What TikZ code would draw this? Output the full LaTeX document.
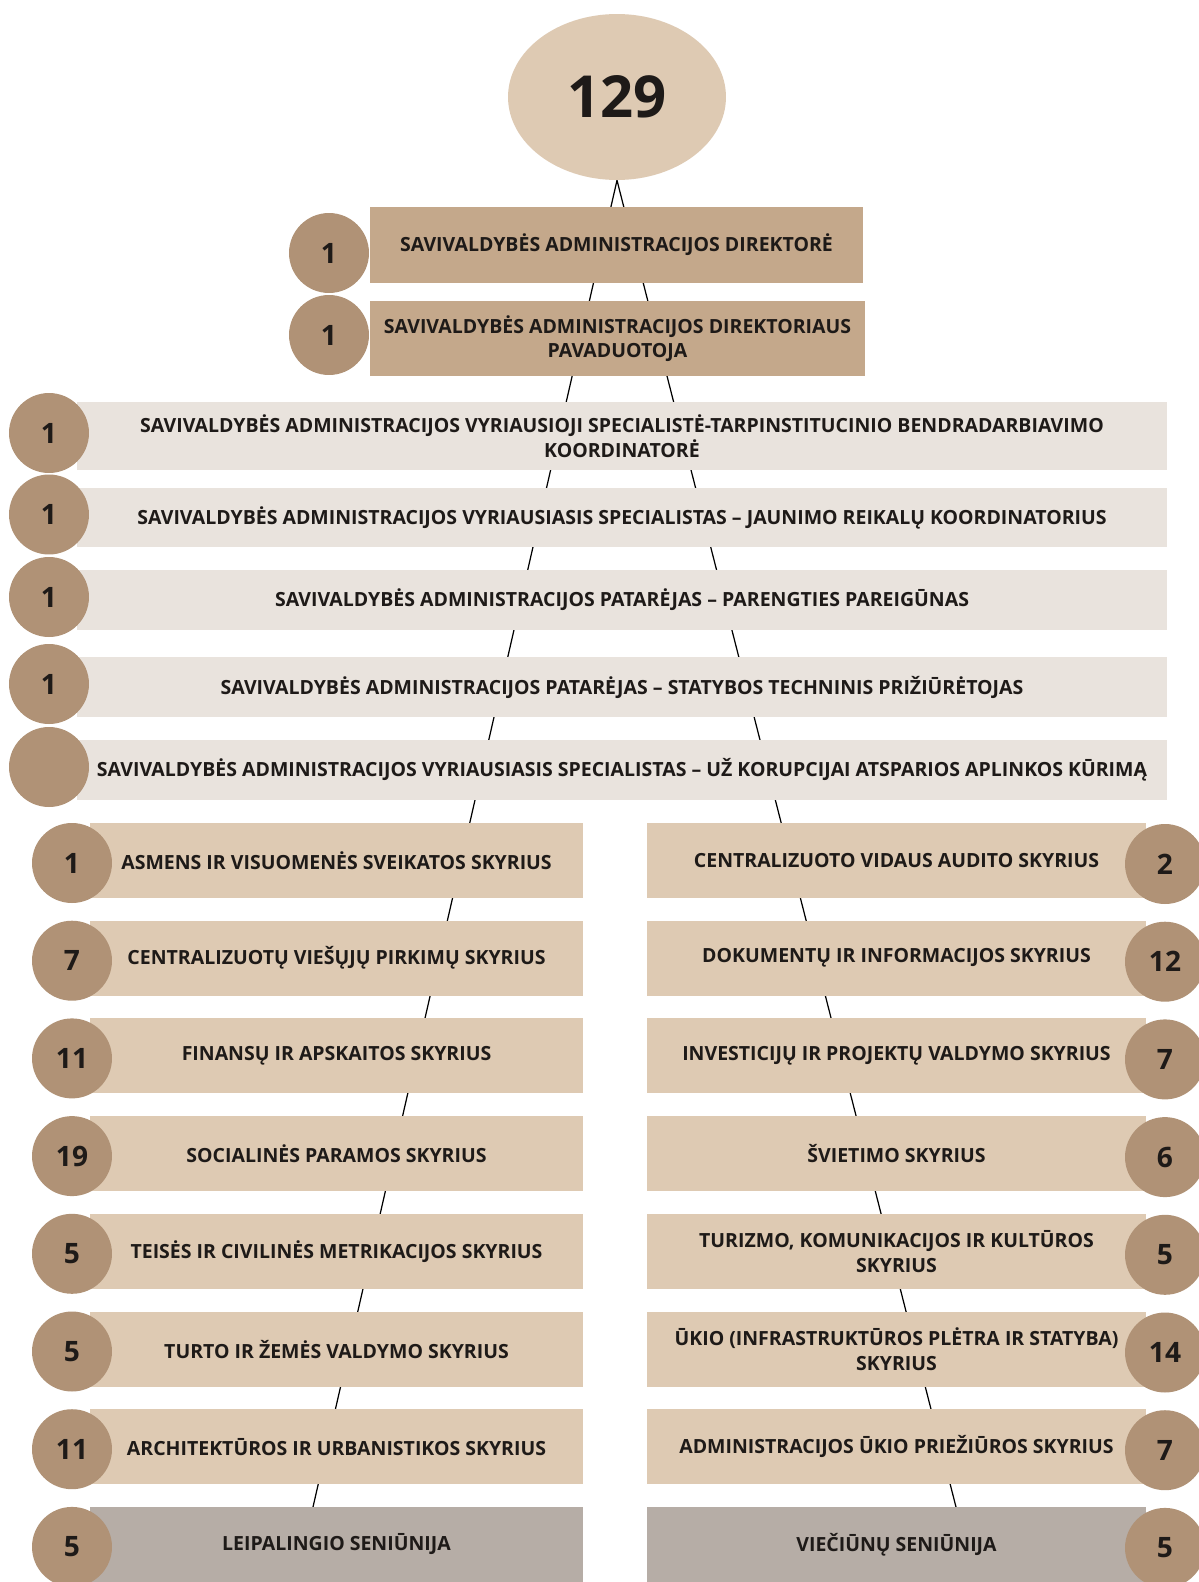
\documentclass[tikz,border=0pt]{standalone}
\usepackage{fontspec}
\setmainfont{Open Sans}
\usetikzlibrary{shapes.geometric}
\usetikzlibrary{backgrounds}

\definecolor{sand}{RGB}{222,202,179}
\definecolor{clay}{RGB}{196,168,139}
\definecolor{cocoa}{RGB}{176,146,118}
\definecolor{mist}{RGB}{233,227,221}
\definecolor{stone}{RGB}{182,173,166}
\definecolor{ink}{RGB}{30,26,24}

\begin{document}
\begin{tikzpicture}
	[x=0.02cm,y=-0.02cm,every node/.style={font=\bfseries\fontsize{11.1}{14}\selectfont,text=ink,align=center,inner sep=0pt},
	bar/.style={rectangle,minimum height=1.5cm},
	badge/.style={circle,fill=cocoa,minimum size=1.6cm,font=\bfseries\fontsize{16}{16}\selectfont}]
	\useasboundingbox (0,0) rectangle (1198,1582);
	\node[style={ellipse,fill=sand,minimum width=4.36cm,minimum height=3.32cm},font=\bfseries\fontsize{33}{33}\selectfont] (top) at (617,97) {129};
	\node[bar,fill=clay,minimum width=9.86cm,minimum height=1.52cm] (dir) at (616.5,245) {SAVIVALDYBĖS ADMINISTRACIJOS DIREKTORĖ};
	\node[badge] (dirn) at (329,253) {1};
	\node[bar,fill=clay,minimum width=9.9cm] (dep) at (617.5,338.5) {SAVIVALDYBĖS ADMINISTRACIJOS DIREKTORIAUS\\PAVADUOTOJA};
	\node[badge] (depn) at (329,335) {1};
	
	% specialistai
	\foreach \y/\h/\n/\t [count=\i] in
	{436/1.36/1/{SAVIVALDYBĖS ADMINISTRACIJOS VYRIAUSIOJI SPECIALISTĖ-TARPINSTITUCINIO BENDRADARBIAVIMO\\KOORDINATORĖ},
	517.5/1.18/1/{SAVIVALDYBĖS ADMINISTRACIJOS VYRIAUSIASIS SPECIALISTAS – JAUNIMO REIKALŲ KOORDINATORIUS},
	600/1.2/1/{SAVIVALDYBĖS ADMINISTRACIJOS PATARĖJAS – PARENGTIES PAREIGŪNAS},
	687/1.2/1/{SAVIVALDYBĖS ADMINISTRACIJOS PATARĖJAS – STATYBOS TECHNINIS PRIŽIŪRĖTOJAS},
	770/1.2//{SAVIVALDYBĖS ADMINISTRACIJOS VYRIAUSIASIS SPECIALISTAS – UŽ KORUPCIJAI ATSPARIOS APLINKOS KŪRIMĄ}}
	{
	\node[bar,fill=mist,minimum width=21.8cm,minimum height=\h cm] (s\i) at (622,\y) {\t};
	\node[badge] (sn\i) at (49,\y-3) {\n};
	}
	
	% skyriai
	\foreach \n/\t/\c [count=\i] in
	{1/ASMENS IR VISUOMENĖS SVEIKATOS SKYRIUS/sand, 7/CENTRALIZUOTŲ VIEŠŲJŲ PIRKIMŲ SKYRIUS/sand,
	11/FINANSŲ IR APSKAITOS SKYRIUS/sand, 19/SOCIALINĖS PARAMOS SKYRIUS/sand,
	5/TEISĖS IR CIVILINĖS METRIKACIJOS SKYRIUS/sand, 5/TURTO IR ŽEMĖS VALDYMO SKYRIUS/sand,
	11/ARCHITEKTŪROS IR URBANISTIKOS SKYRIUS/sand, 5/LEIPALINGIO SENIŪNIJA/stone}
	{
	\node[bar,fill=\c,minimum width=9.86cm] (l\i) at (336.5,860.5+97.7*\i-97.7) {\t};
	\node[badge] (ln\i) at (72,863+97.7*\i-97.7) {\n};
	}
	\foreach \n/\t/\c [count=\i] in
	{2/CENTRALIZUOTO VIDAUS AUDITO SKYRIUS/sand, 12/DOKUMENTŲ IR INFORMACIJOS SKYRIUS/sand,
	7/INVESTICIJŲ IR PROJEKTŲ VALDYMO SKYRIUS/sand, 6/ŠVIETIMO SKYRIUS/sand,
	5/{TURIZMO, KOMUNIKACIJOS IR KULTŪROS\\SKYRIUS}/sand, 14/{ŪKIO (INFRASTRUKTŪROS PLĖTRA IR STATYBA)\\SKYRIUS}/sand,
	7/ADMINISTRACIJOS ŪKIO PRIEŽIŪROS SKYRIUS/sand, 5/VIEČIŪNŲ SENIŪNIJA/stone}
	{
	\node[bar,fill=\c,minimum width=9.98cm] (r\i) at (896.5,860.5+97.7*\i-97.7) {\t};
	\node[badge] (rn\i) at (1165,864+97.7*\i-97.7) {\n};
	}
	
	\coordinate (lend) at (313,1507);
	\coordinate (rend) at (956,1507);
	\begin{scope}[on background layer]
	\fill[white] (0,0) rectangle (1198,1582);
	\foreach \to in {lend,rend}
	\draw[line width=0.7pt] (top.south) -- (\to);
	\end{scope}
\end{tikzpicture}
\end{document}
